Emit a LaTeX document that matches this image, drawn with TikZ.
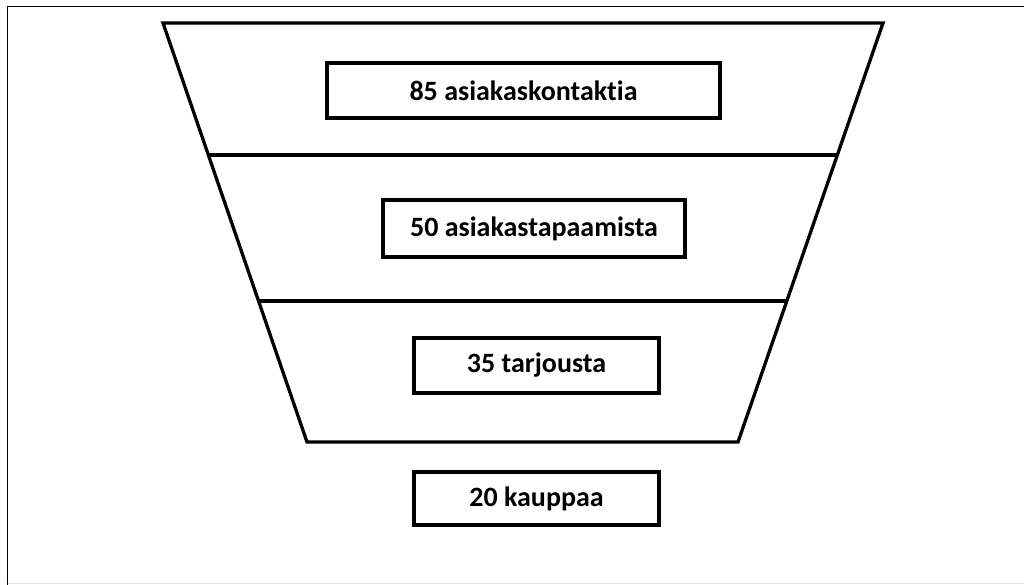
\documentclass[tikz,border=0pt]{standalone}
\usepackage{fontspec}
\setmainfont[Ligatures={NoCommon}]{Carlito}
\usetikzlibrary{calc}
\begin{document}
\begin{tikzpicture}[x=1pt,y=-1pt,
  funnel/.style={draw=black,line width=3.3pt,line join=miter},
  stage/.style={draw=black,line width=3.3pt,fill=white,inner sep=0pt,font=\bfseries\fontsize{28}{32}\selectfont,text=black}]
\useasboundingbox (0,0) rectangle (1024,585);
% frame
\draw[line width=1.3pt,black] (7.5,585) -- (7.5,6.5) -- (1024,6.5);
\draw[line width=1pt,black!12] (7.5,583.5) -- (1024,583.5);
% funnel
\coordinate (tl) at (163,23);
\coordinate (tr) at (883,23);
\coordinate (br) at (738,442);
\coordinate (bl) at (307,442);
\draw[funnel] (tl) -- (tr) -- (br) -- (bl) -- cycle;
\coordinate (d1l) at ($(tl)!{132/419}!(bl)$);
\coordinate (d1r) at ($(tr)!{132/419}!(br)$);
\coordinate (d2l) at ($(tl)!{278/419}!(bl)$);
\coordinate (d2r) at ($(tr)!{278/419}!(br)$);
\draw[funnel] (d1l) -- (d1r);
\draw[funnel] (d2l) -- (d2r);
% stages
\node[stage,minimum width=393pt,minimum height=55pt] (s1) at (523.5,90.5) {85 asiakaskontaktia};
\node[stage,minimum width=302pt,minimum height=57pt] (s2) at (534,228.5) {50 asiakastapaamista};
\node[stage,minimum width=245pt,minimum height=55pt] (s3) at (536.5,365.5) {35 tarjousta};
\node[stage,minimum width=245pt,minimum height=53pt] (s4) at (536.5,498.5) {20 kauppaa};
\end{tikzpicture}
\end{document}
